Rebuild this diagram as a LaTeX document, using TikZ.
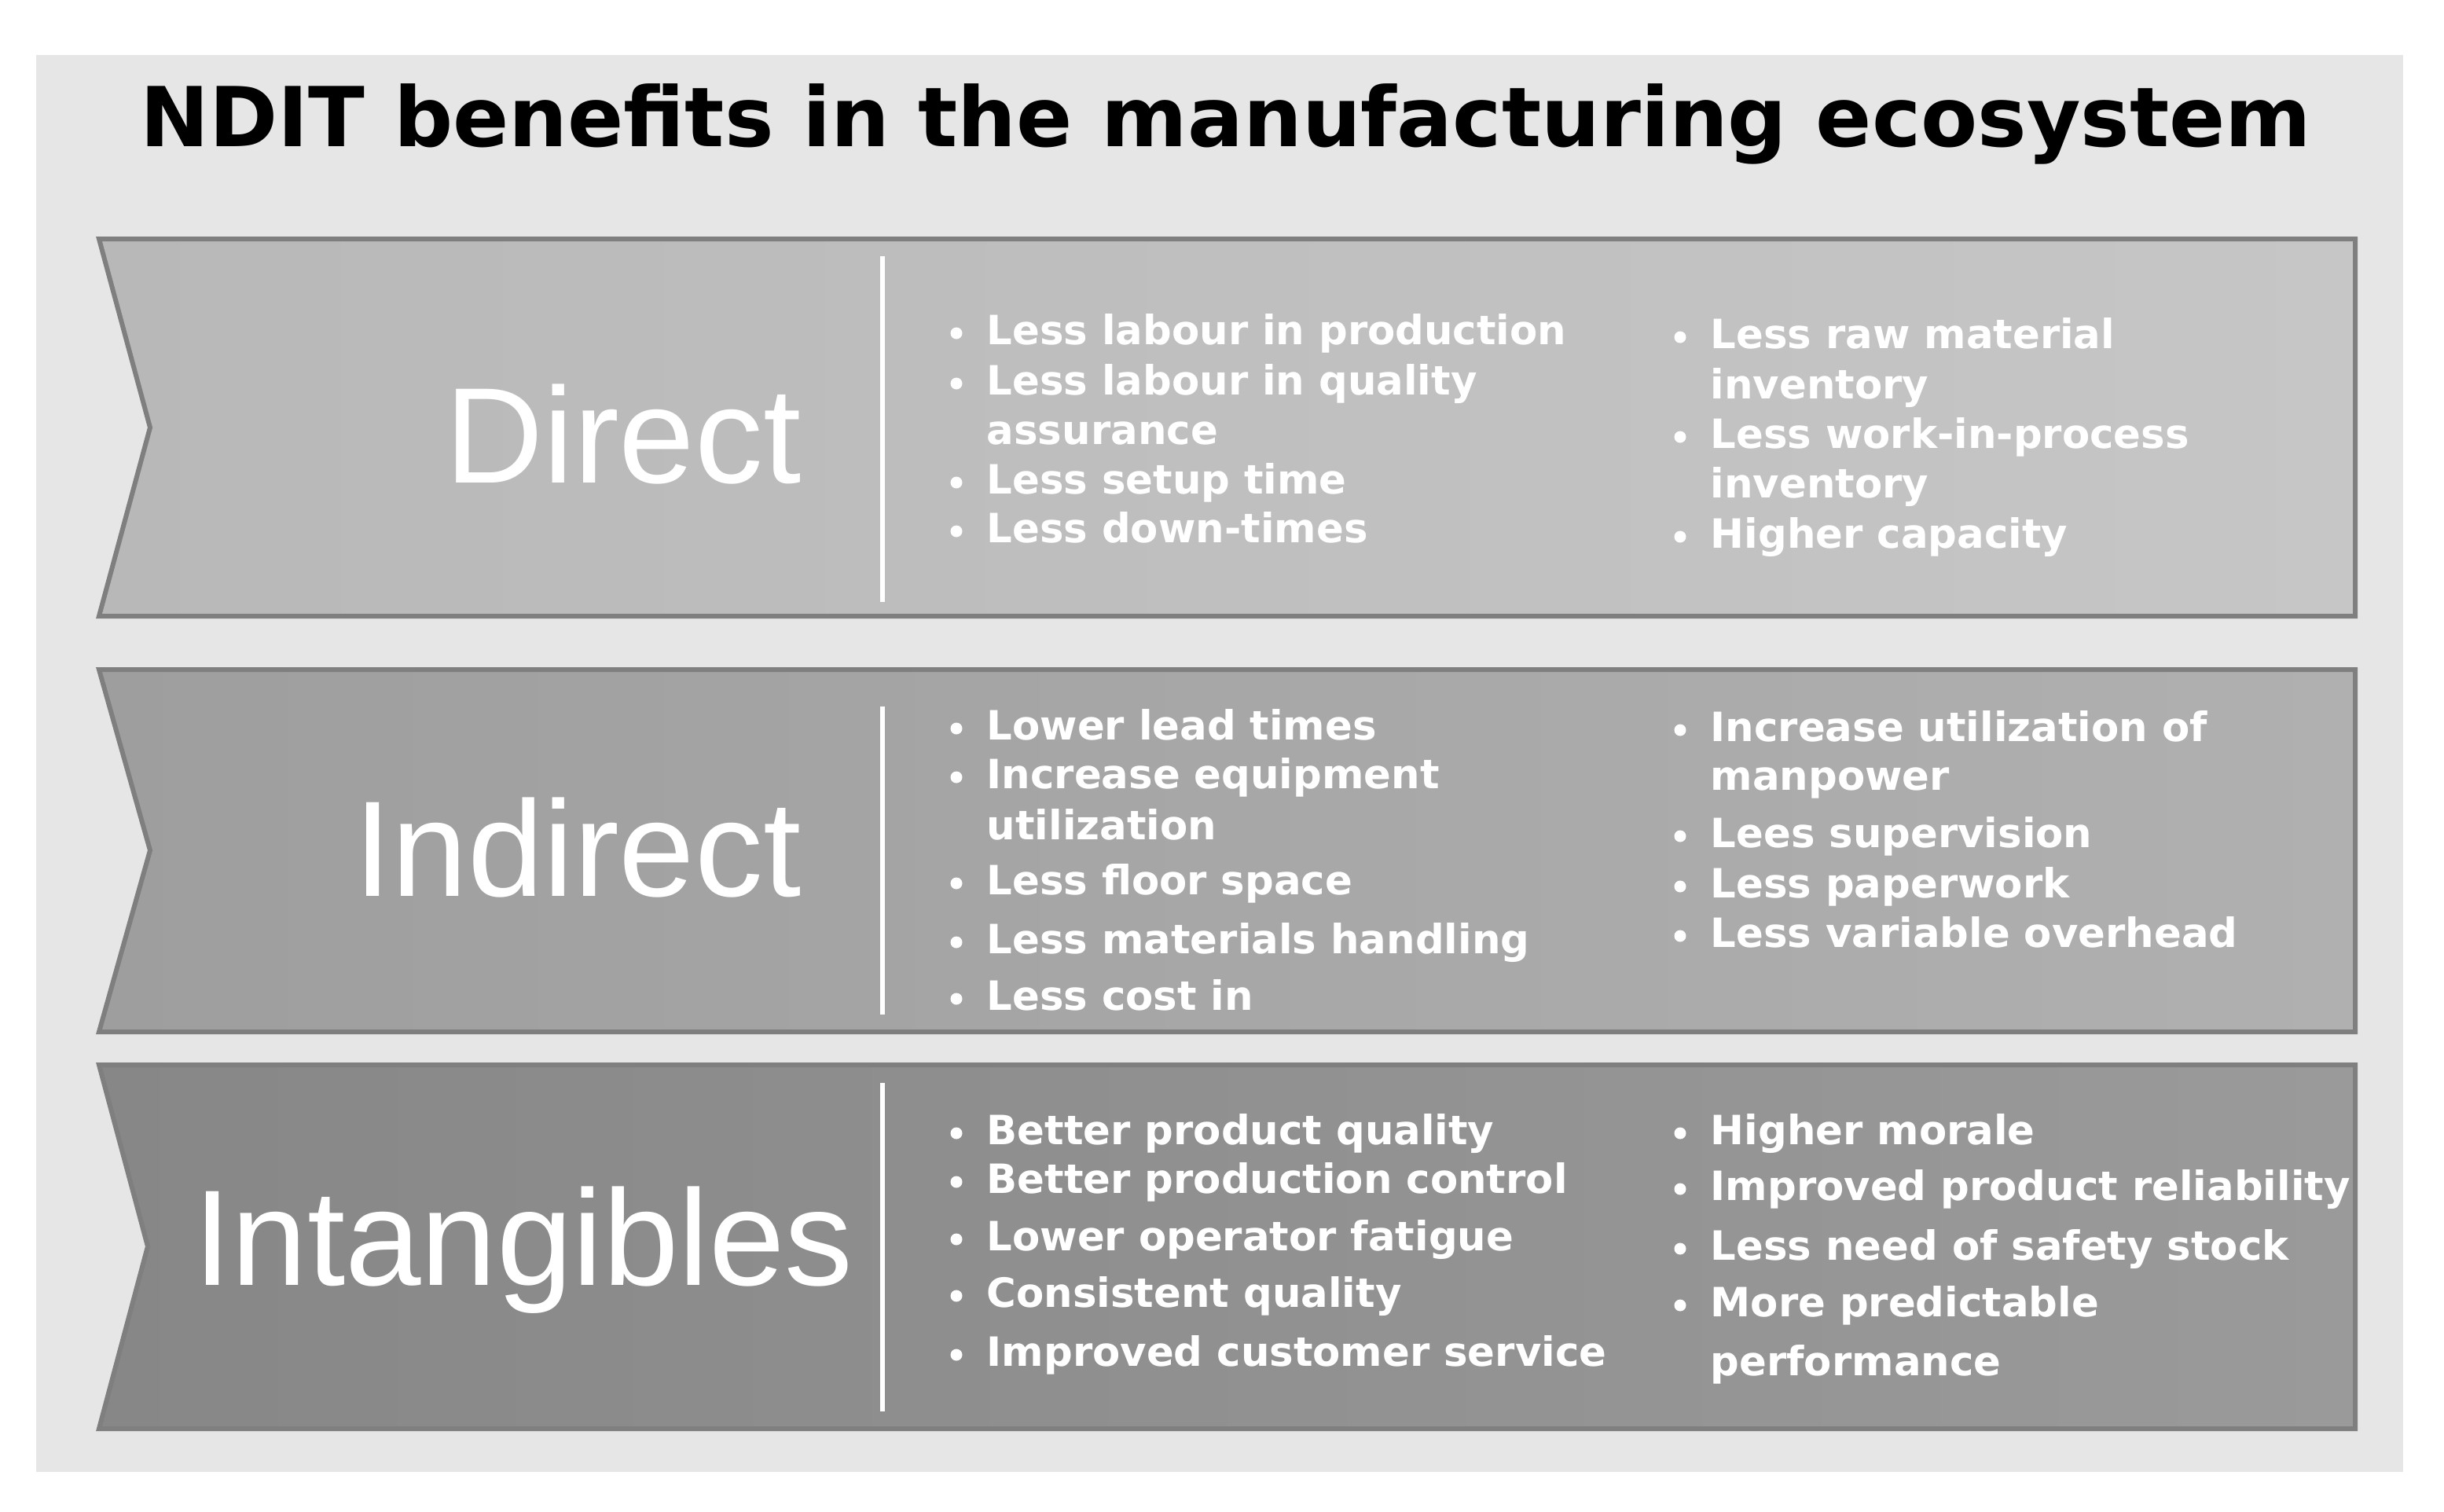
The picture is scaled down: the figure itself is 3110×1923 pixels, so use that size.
\documentclass[tikz,border=0pt]{standalone}
\usepackage{fontspec}
\setmainfont{Liberation Sans}
\newfontfamily\djv{DejaVu Sans}
\definecolor{panel}{HTML}{E6E6E6}
\definecolor{bord}{HTML}{7F7F7F}
\definecolor{dirL}{HTML}{B8B8B8}
\definecolor{dirR}{HTML}{C6C6C6}
\definecolor{indL}{HTML}{9E9E9E}
\definecolor{indR}{HTML}{B0B0B0}
\definecolor{intL}{HTML}{878787}
\definecolor{intR}{HTML}{9A9A9A}
\tikzset{
  band/.style={draw=bord, line width=0.06cm, line join=miter},
  sepline/.style={draw=white, line width=0.06cm},
  item/.style={anchor=base west, text=white, inner sep=0pt,
    font=\djv\bfseries\fontsize{14.6pt}{17pt}\selectfont},
  dot/.style={circle, fill=white, inner sep=0pt, minimum size=0.15cm},
  biglabel/.style={text=white, inner sep=0pt,
    font=\fontsize{49.3pt}{58pt}\selectfont},
  titletext/.style={anchor=base, inner sep=0pt, text=black,
    font=\djv\bfseries\fontsize{29.9pt}{36pt}\selectfont}
}
\newcommand\bitem[4]{%
  \node[dot] (#1b) at (#2-38,#3-14) {};
  \node[item] (#1) at (#2,#3) {#4};}
\newcommand\citem[4]{%
  \node[item] (#1) at (#2,#3) {#4};}
\begin{document}
\begin{tikzpicture}[x=0.01cm,y=-0.01cm]
\useasboundingbox (0,0) rectangle (3110,1923);
\fill[white] (0,0) rectangle (3110,1923);
\fill[panel] (46,70) rectangle (3058,1873);

\node[titletext] (title) at (1560,186) {NDIT benefits in the manufacturing ecosystem};

% bands
\path[band, left color=dirL, right color=dirR]
  (126,304) -- (2997,304) -- (2997,784) -- (126,784) -- (191,544) -- cycle;
\path[band, left color=indL, right color=indR]
  (126,852) -- (2997,852) -- (2997,1313) -- (126,1313) -- (191,1082) -- cycle;
\path[band, left color=intL, right color=intR]
  (126,1355) -- (2997,1355) -- (2997,1818) -- (126,1818) -- (188,1586) -- cycle;

% separators
\coordinate (s1t) at (1123,326); \coordinate (s1b) at (1123,766);
\coordinate (s2t) at (1123,899); \coordinate (s2b) at (1123,1291);
\coordinate (s3t) at (1123,1378); \coordinate (s3b) at (1123,1796);
\draw[sepline] (s1t) -- (s1b);
\draw[sepline] (s2t) -- (s2b);
\draw[sepline] (s3t) -- (s3b);

% labels
\node[biglabel, anchor=base east] (lDirect) at (1020,614) {Direct};
\node[biglabel, anchor=base east] (lIndirect) at (1020,1140) {Indirect};
\node[biglabel, anchor=base west] (lIntang) at (246,1635) {Intangibles};

% Direct
\bitem{da1}{1255}{438}{Less labour in production}
\bitem{da2}{1255}{502}{Less labour in quality}
\citem{da3}{1255}{565}{assurance}
\bitem{da4}{1255}{628}{Less setup time}
\bitem{da5}{1255}{690}{Less down-times}
\bitem{db1}{2176}{443}{Less raw material}
\citem{db2}{2176}{507}{inventory}
\bitem{db3}{2176}{570}{Less work-in-process}
\citem{db4}{2176}{633}{inventory}
\bitem{db5}{2176}{697}{Higher capacity}

% Indirect
\bitem{ia1}{1255}{941}{Lower lead times}
\bitem{ia2}{1255}{1003}{Increase equipment}
\citem{ia3}{1255}{1068}{utilization}
\bitem{ia4}{1255}{1138}{Less floor space}
\bitem{ia5}{1255}{1213}{Less materials handling}
\bitem{ia6}{1255}{1285}{Less cost in}
\bitem{ib1}{2176}{943}{Increase utilization of}
\citem{ib2}{2176}{1005}{manpower}
\bitem{ib3}{2176}{1078}{Lees supervision}
\bitem{ib4}{2176}{1142}{Less paperwork}
\bitem{ib5}{2176}{1205}{Less variable overhead}

% Intangibles
\bitem{ta1}{1255}{1456}{Better product quality}
\bitem{ta2}{1255}{1518}{Better production control}
\bitem{ta3}{1255}{1591}{Lower operator fatigue}
\bitem{ta4}{1255}{1663}{Consistent quality}
\bitem{ta5}{1255}{1738}{Improved customer service}
\bitem{tb1}{2176}{1456}{Higher morale}
\bitem{tb2}{2176}{1527}{Improved product reliability}
\bitem{tb3}{2176}{1603}{Less need of safety stock}
\bitem{tb4}{2176}{1675}{More predictable}
\citem{tb5}{2176}{1750}{performance}
\end{tikzpicture}
\end{document}
